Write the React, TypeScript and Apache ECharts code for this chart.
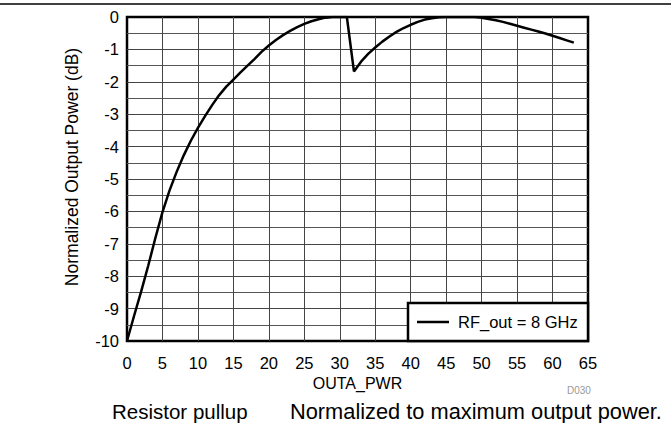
import React, { useEffect, useRef } from "react";
import * as echarts from "echarts";

const outaPwr: number[] = [
  0, 1, 2, 3, 4, 5, 6, 7, 8, 9, 10, 11, 12, 13, 14, 15, 16, 17, 18, 19, 20,
  21, 22, 23, 24, 25, 26, 27, 28, 29, 30, 31, 32, 33, 34, 35, 36, 37, 38, 39,
  40, 41, 42, 43, 44, 45, 46, 47, 48, 49, 50, 51, 52, 53, 54, 55, 56, 57, 58,
  59, 60, 61, 62, 63,
];
const normPower: number[] = [
  -10, -9.22, -8.47, -7.67, -6.82, -6.02, -5.35, -4.78, -4.27, -3.82, -3.42,
  -3.06, -2.72, -2.41, -2.15, -1.93, -1.71, -1.5, -1.29, -1.07, -0.88, -0.71,
  -0.56, -0.43, -0.31, -0.21, -0.13, -0.07, -0.02, 0, 0, 0, -1.68, -1.38,
  -1.14, -0.94, -0.76, -0.6, -0.46, -0.34, -0.24, -0.15, -0.08, -0.04, -0.01,
  0, 0, 0, 0, 0, -0.02, -0.06, -0.1, -0.15, -0.21, -0.27, -0.33, -0.39, -0.45,
  -0.51, -0.58, -0.65, -0.72, -0.79,
];
const seriesName = "RF_out = 8 GHz";
const xAxisName = "OUTA_PWR";
const yAxisName = "Normalized Output Power (dB)";
const captionLeft = "Resistor pullup";
const captionRight = "Normalized to maximum output power.";
const figId = "D030";

const FONT = "'Liberation Sans', Arial, Helvetica, sans-serif";

export default function App() {
  const ref = useRef<HTMLDivElement>(null);
  useEffect(() => {
    if (!ref.current) return;
    const chart = echarts.init(ref.current, undefined, { renderer: "svg" });
    const data = outaPwr.map((x, i) => [x, normPower[i]]);
    chart.setOption({
      animation: false,
      backgroundColor: "#fff",
      textStyle: { fontFamily: FONT },
      grid: {
        left: 127,
        right: 83,
        top: 17,
        bottom: 82,
        show: true,
        borderColor: "#000",
        borderWidth: 2.5,
        backgroundColor: "transparent",
      },
      xAxis: {
        type: "value",
        min: 0,
        max: 65,
        interval: 5,
        name: xAxisName,
        nameLocation: "middle",
        nameGap: 33,
        nameTextStyle: { fontSize: 16, color: "#000", fontFamily: FONT },
        axisLine: { show: false },
        axisTick: { show: false },
        axisLabel: { fontSize: 16.5, color: "#000", margin: 13, fontFamily: FONT },
        splitLine: {
          show: true,
          showMinLine: false,
          showMaxLine: false,
          lineStyle: { color: "#444", width: 1 },
        },
      },
      yAxis: {
        type: "value",
        min: -10,
        max: 0,
        interval: 1,
        axisLine: { show: false },
        axisTick: { show: false },
        axisLabel: { fontSize: 16.5, color: "#000", margin: 8, fontFamily: FONT },
        splitLine: {
          show: true,
          showMinLine: false,
          showMaxLine: false,
          lineStyle: { color: "#444", width: 1 },
        },
        minorTick: { show: false, splitNumber: 2 },
        minorSplitLine: { show: true, lineStyle: { color: "#555", width: 1 } },
      },
      series: [
        {
          name: seriesName,
          type: "line",
          data,
          showSymbol: false,
          symbol: "none",
          smooth: false,
          lineStyle: { color: "#000", width: 2.5 },
          z: 5,
        },
      ],
      graphic: [
        {
          type: "line",
          z: 100,
          shape: { x1: 0, y1: 4, x2: 671, y2: 4 },
          style: { stroke: "#000", lineWidth: 1.5 },
        },
        {
          type: "rect",
          z: 100,
          shape: { x: 408, y: 303, width: 180, height: 38 },
          style: { fill: "#fff", stroke: "#000", lineWidth: 2.5 },
        },
        {
          type: "line",
          z: 101,
          shape: { x1: 417, y1: 322, x2: 449, y2: 322 },
          style: { stroke: "#000", lineWidth: 2.5 },
        },
        {
          type: "text",
          z: 101,
          x: 458,
          y: 322,
          style: {
            text: seriesName,
            fontSize: 16.5,
            fontFamily: FONT,
            fill: "#000",
            textAlign: "left",
            textVerticalAlign: "middle",
          },
        },
        {
          type: "text",
          z: 100,
          x: 72,
          y: 167,
          rotation: Math.PI / 2,
          style: {
            text: yAxisName,
            fontSize: 17.5,
            fontFamily: FONT,
            fill: "#000",
            textAlign: "center",
            textVerticalAlign: "middle",
          },
        },
        {
          type: "text",
          z: 100,
          x: 567,
          y: 390,
          style: {
            text: figId,
            fontSize: 10,
            fontFamily: FONT,
            fill: "#999",
            textAlign: "left",
            textVerticalAlign: "middle",
          },
        },
        {
          type: "text",
          z: 100,
          x: 112,
          y: 411,
          style: {
            text: captionLeft,
            fontSize: 20.5,
            fontFamily: FONT,
            fill: "#000",
            textAlign: "left",
            textVerticalAlign: "middle",
          },
        },
        {
          type: "text",
          z: 100,
          x: 290,
          y: 411,
          style: {
            text: captionRight,
            fontSize: 21.8,
            fontFamily: FONT,
            fill: "#000",
            textAlign: "left",
            textVerticalAlign: "middle",
          },
        },
      ],
    });
    return () => chart.dispose();
  }, []);
  return (
    <div
      ref={ref}
      style={{ position: "fixed", left: 0, top: 0, width: 671, height: 423 }}
    />
  );
}
